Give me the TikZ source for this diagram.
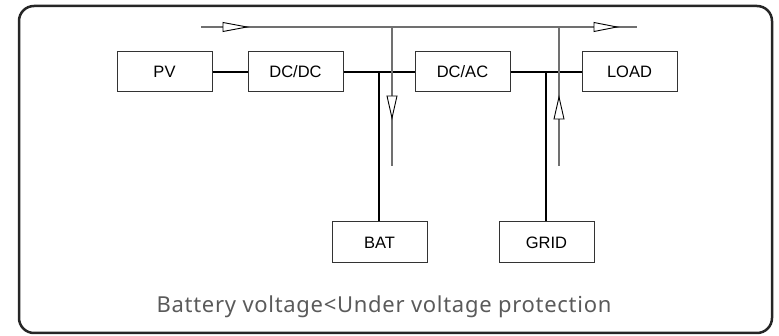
\documentclass[tikz,border=0pt]{standalone}
\usepackage{fontspec}
\setmainfont{Liberation Sans}
\newfontfamily\capfont[LetterSpace=3.2]{Noto Sans}
\definecolor{boxline}{HTML}{333333}
\definecolor{flowline}{HTML}{707070}
\definecolor{captxt}{HTML}{5A5A5A}
\definecolor{framec}{HTML}{262626}
\begin{document}
\begin{tikzpicture}[x=1pt,y=-1pt,
  unit/.style={draw=boxline,line width=1pt,minimum width=95pt,minimum height=40pt,inner sep=0pt,font=\fontsize{16.5}{19}\selectfont},
  bus/.style={line width=2pt,black},
  flow/.style={draw=flowline,line width=1.3pt},
  tri/.style={draw=black,line width=0.9pt,fill=white}]
\useasboundingbox (0,0) rectangle (779,336);
\draw[framec,line width=2.5pt,rounded corners=15pt] (19,6) rectangle (772,333);
% units
\node[unit] (pv) at (164.5,72) {PV};
\node[unit] (dcdc) at (295.5,72) {DC/DC};
\node[unit] (dcac) at (462.5,72) {DC/AC};
\node[unit] (load) at (629.5,72) {LOAD};
\node[unit,minimum height=41pt] (bat) at (379.5,242.5) {BAT};
\node[unit,minimum height=41pt] (grid) at (546.5,242.5) {GRID};
\coordinate (j1) at (379,72);
\coordinate (j2) at (546,72);
% thick buses
\draw[bus] (pv.east) -- (dcdc.west);
\draw[bus] (dcdc.east) -- (dcac.west);
\draw[bus] (dcac.east) -- (load.west);
\draw[bus] (j1) -- (j1 |- bat.north);
\draw[bus] (j2) -- (j2 |- grid.north);
% flow lines
\coordinate (fs) at (201,27);
\coordinate (fe) at (637,27);
\coordinate (d1) at (392,27);
\coordinate (d1e) at (392,166);
\coordinate (u1) at (559,27);
\coordinate (u1e) at (559,166);
\draw[flow] (fs) -- (fe);
\draw[flow] (d1) -- (d1e);
\draw[flow] (u1) -- (u1e);
% open arrowheads
\draw[tri] (223,22.5) -- (247,27) -- (223,31.5) -- cycle;
\draw[tri] (594,22.5) -- (617,27) -- (594,31.5) -- cycle;
\draw[tri] (387,96) -- (392,118) -- (397,96) -- cycle;
\draw[tri] (554,119) -- (559,97) -- (564,119) -- cycle;
% caption
\node[captxt,anchor=base,inner sep=0pt,font=\capfont\fontsize{22}{25}\selectfont] (cap) at (384,313) {Battery voltage<Under voltage protection};
\end{tikzpicture}
\end{document}
